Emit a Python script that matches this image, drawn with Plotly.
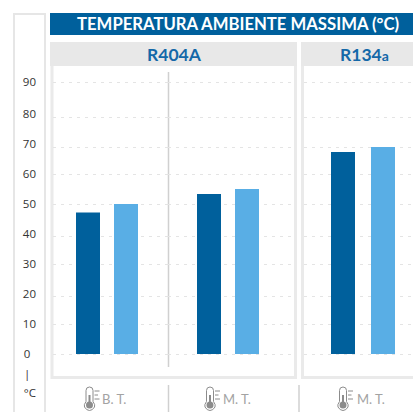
import plotly.graph_objects as go

W, H = 413, 412

TITLE = "TEMPERATURA AMBIENTE MASSIMA (°C)"
GROUP_LABELS = ["B. T.", "M. T.", "M. T."]
REFRIGERANTS = ["R404A", "R134<span style='font-size:14px'>a</span>"]
SERIES_DARK = [47.2, 53.3, 67.3]
SERIES_LIGHT = [50.0, 55.0, 69.0]
TICK_VALUES = [-13, -6.5, 0, 10, 20, 30, 40, 50, 60, 70, 80, 90.6]
TICK_LABELS = ["°C", "|\u2002", "0\u2002", "10", "20", "30", "40", "50", "60", "70", "80", "90"]
GRID_LEVELS = [0, 9.7, 19.1, 30, 39.3, 49.9, 59.7, 68.9, 78.7, 90.5]

DARK = "#00609C"
LIGHT = "#59AEE5"
FRAME = "#EAEAEA"
HEAD_BLUE = "#1468A8"
GREY_TXT = "#A3A3A3"
GREY_ICON = "#8C8C8C"

px = lambda v: v / W
py = lambda v: 1 - v / H
Y_RANGE = [(354 - 405) / 3, (354 - 36) / 3]
Y_DOMAIN = [py(405), py(36)]

# pixel layout of the three groups: (left, right, centre, dark offset, light offset)
GROUPS = [(53, 168, 107, -31, 7), (168, 293, 228, -31, 7), (304, 413, 363, -32, 8)]

fig = go.Figure()
layout_axes = {}
for i, (l, r, c, od, ol) in enumerate(GROUPS):
    n = "" if i == 0 else str(i + 1)
    for vals, off, col, name in ((SERIES_DARK, od, DARK, "Serie 1"), (SERIES_LIGHT, ol, LIGHT, "Serie 2")):
        fig.add_bar(
            x=[GROUP_LABELS[i]], y=[vals[i]], width=0.24, offset=off / 100,
            marker=dict(color=col, line_width=0), name=name, showlegend=False,
            xaxis="x" + n, yaxis="y",
        )
    # empty trace so each panel also owns a grid subplot
    fig.add_scatter(x=[GROUP_LABELS[i]], y=[None], xaxis="x" + n, yaxis="y2",
                    mode="markers", showlegend=False, hoverinfo="skip")
    layout_axes["xaxis" + n] = dict(
        domain=[px(l), px(r)], range=[(l - c) / 100, (r - c) / 100], type="category",
        showgrid=False, zeroline=False, showticklabels=False, ticks="", showline=False,
        anchor="y",
    )

FONT = "Lato"
shapes = []
def rect(x0, y0, x1, y1, fill=None, line=None, lw=0, layer="below"):
    shapes.append(dict(type="rect", xref="paper", yref="paper", x0=px(x0), x1=px(x1),
                       y0=py(y1), y1=py(y0), fillcolor=fill or "rgba(0,0,0,0)",
                       line=dict(color=line or "rgba(0,0,0,0)", width=lw), layer=layer))
def vline(x, y0, y1, color="#D0D0D0", lw=1.5):
    shapes.append(dict(type="line", xref="paper", yref="paper", x0=px(x), x1=px(x),
                       y0=py(y1), y1=py(y0), line=dict(color=color, width=lw), layer="below"))

# left strip
rect(14, 14, 45, 414, line="#E6E6E6", lw=2)
# title bar
rect(50, 13, 414, 35, fill=DARK)
# panels
rect(52, 44, 295.5, 377.5, line=FRAME, lw=3)
rect(302.5, 44, 420, 377.5, line=FRAME, lw=3)
rect(50, 42, 297, 66, fill="#E8E8E8")
rect(301, 42, 420, 66, fill="#E8E8E8")
# dividers
vline(168.5, 72, 367)
vline(168.5, 385, 412)
vline(299, 385, 412)

def thermometer(cx):
    top, r = 387, 3.5
    by = 405
    x0, x1 = cx - r, cx + r
    d = (f"M {px(x0)} {py(by - 3.5)} L {px(x0)} {py(top + r)} "
         f"Q {px(x0)} {py(top)} {px(cx)} {py(top)} Q {px(x1)} {py(top)} {px(x1)} {py(top + r)} "
         f"L {px(x1)} {py(by - 3.5)} "
         f"Q {px(cx + 6)} {py(by)} {px(cx + 5)} {py(by + 2)} Q {px(cx + 3)} {py(by + 5.5)} {px(cx)} {py(by + 5.5)} "
         f"Q {px(cx - 3)} {py(by + 5.5)} {px(cx - 5)} {py(by + 2)} Q {px(cx - 6)} {py(by)} {px(x0)} {py(by - 3.5)} Z")
    shapes.append(dict(type="path", xref="paper", yref="paper", path=d,
                       line=dict(color=GREY_ICON, width=1), fillcolor="rgba(0,0,0,0)"))
    shapes.append(dict(type="circle", xref="paper", yref="paper", x0=px(cx - 3.5), x1=px(cx + 3.5),
                       y0=py(by + 3.5), y1=py(by - 3.5), fillcolor=GREY_ICON, line_width=0))
    shapes.append(dict(type="line", xref="paper", yref="paper", x0=px(cx), x1=px(cx),
                       y0=py(by), y1=py(top + 8), line=dict(color=GREY_ICON, width=2)))
    for ty, tw in ((391, 5), (395, 3.5), (399, 5)):
        shapes.append(dict(type="line", xref="paper", yref="paper", x0=px(cx + 5), x1=px(cx + 5 + tw),
                           y0=py(ty), y1=py(ty), line=dict(color=GREY_ICON, width=1)))

for cx in (89.5, 210, 343):
    thermometer(cx)

def note(text, x, y, size, color, bold=False, xanchor="center"):
    return dict(text=f"<b>{text}</b>" if bold else text, x=px(x), y=py(y), xref="paper", yref="paper",
                xanchor=xanchor, yanchor="middle", showarrow=False,
                font=dict(family=FONT, size=size, color=color))

annotations = [
    note(TITLE, 237.5, 24, 16.7, "white", True),
    note(REFRIGERANTS[0], 174.5, 54.5, 17.5, HEAD_BLUE, True),
    note(REFRIGERANTS[1], 364.5, 54.5, 17.5, HEAD_BLUE, True),
    note(GROUP_LABELS[0], 99.5, 399, 13, GREY_TXT, xanchor="left"),
    note(GROUP_LABELS[1], 220.5, 399, 13, GREY_TXT, xanchor="left"),
    note(GROUP_LABELS[2], 354.5, 399, 13, GREY_TXT, xanchor="left"),
]

fig.update_layout(
    width=W, height=H, margin=dict(l=0, r=0, t=0, b=0, pad=0),
    paper_bgcolor="white", plot_bgcolor="rgba(0,0,0,0)", showlegend=False,
    barmode="overlay", shapes=shapes, annotations=annotations,
    yaxis=dict(
        domain=Y_DOMAIN, range=Y_RANGE, anchor="free", position=px(36), side="left",
        tickmode="array", tickvals=TICK_VALUES, ticktext=TICK_LABELS, ticks="",
        showgrid=False, zeroline=False, showline=False,
        tickfont=dict(family="Open Sans", size=11.5, color="#333333"),
    ),
    yaxis2=dict(
        domain=Y_DOMAIN, range=Y_RANGE, overlaying="y", anchor="x", side="left",
        tickmode="array", tickvals=GRID_LEVELS, showticklabels=False, ticks="",
        showgrid=True, gridcolor="#E4E4E4", griddash="3px,5px", gridwidth=1,
        zeroline=False, showline=False,
    ),
    **layout_axes,
)

fig.write_html("out.html", config={"displayModeBar": False},
               post_script="document.body.style.margin='0';document.documentElement.style.overflow='hidden';")
